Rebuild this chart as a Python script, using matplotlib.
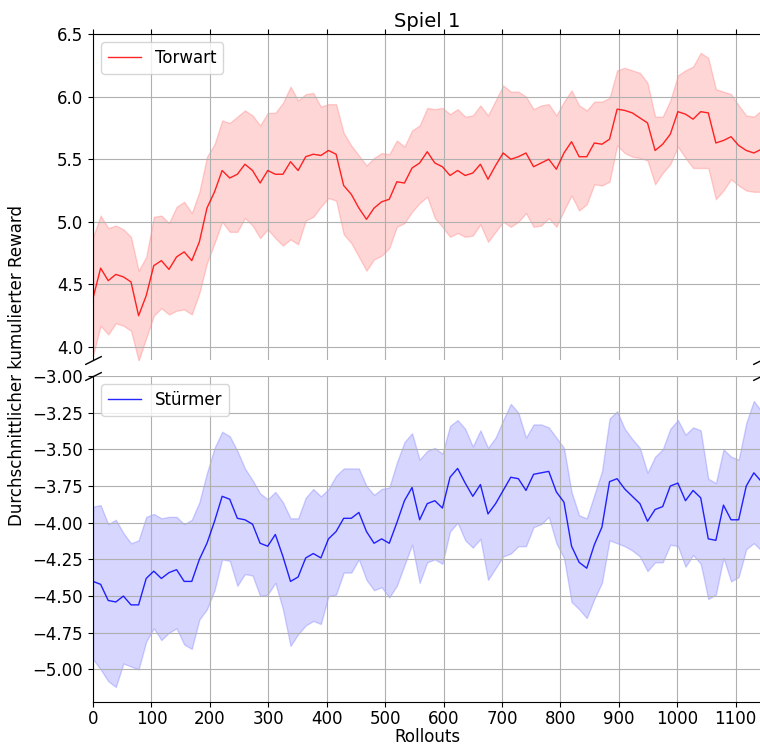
import numpy as np
import matplotlib
matplotlib.use('Agg')
import matplotlib.pyplot as plt

# %% Werte
rollouts = np.arange(0, 1145, 13)

torwart_mean = [4.39, 4.63, 4.53, 4.58, 4.56, 4.52, 4.25, 4.41, 4.65, 4.69,
                4.62, 4.72, 4.76, 4.69, 4.84, 5.11, 5.24, 5.41, 5.35, 5.38,
                5.46, 5.41, 5.31, 5.41, 5.38, 5.38, 5.48, 5.41, 5.52, 5.54,
                5.53, 5.57, 5.54, 5.29, 5.22, 5.11, 5.02, 5.11, 5.16, 5.18,
                5.32, 5.31, 5.43, 5.47, 5.56, 5.47, 5.44, 5.37, 5.41, 5.37,
                5.39, 5.46, 5.34, 5.45, 5.55, 5.50, 5.52, 5.55, 5.44, 5.47,
                5.50, 5.42, 5.55, 5.64, 5.52, 5.52, 5.63, 5.62, 5.66, 5.90,
                5.89, 5.87, 5.83, 5.79, 5.57, 5.62, 5.70, 5.88, 5.86, 5.82,
                5.88, 5.87, 5.63, 5.65, 5.68, 5.61, 5.57, 5.55, 5.58]
torwart_upper = [4.88, 5.05, 4.95, 4.97, 4.94, 4.88, 4.61, 4.72, 5.04, 5.05,
                 4.99, 5.12, 5.16, 5.07, 5.24, 5.52, 5.62, 5.81, 5.79, 5.84,
                 5.89, 5.85, 5.77, 5.87, 5.87, 5.95, 6.08, 5.97, 6.02, 6.03,
                 5.92, 5.94, 5.94, 5.71, 5.61, 5.53, 5.45, 5.51, 5.55, 5.54,
                 5.65, 5.60, 5.73, 5.77, 5.91, 5.90, 5.91, 5.86, 5.90, 5.84,
                 5.85, 5.93, 5.85, 5.97, 6.09, 6.04, 6.04, 6.00, 5.90, 5.93,
                 5.94, 5.85, 5.96, 6.05, 5.93, 5.89, 5.96, 5.96, 5.99, 6.21,
                 6.23, 6.21, 6.19, 6.11, 5.84, 5.84, 5.97, 6.17, 6.21, 6.24,
                 6.35, 6.31, 6.06, 6.04, 6.02, 5.93, 5.85, 5.84, 5.89]
torwart_lower = [3.93, 4.17, 4.10, 4.19, 4.17, 4.13, 3.89, 4.07, 4.25, 4.31,
                 4.26, 4.29, 4.30, 4.26, 4.43, 4.67, 4.83, 5.00, 4.92, 4.92,
                 5.03, 4.97, 4.87, 4.94, 4.87, 4.81, 4.86, 4.82, 5.01, 5.04,
                 5.12, 5.19, 5.17, 4.90, 4.83, 4.72, 4.61, 4.70, 4.73, 4.79,
                 4.96, 4.99, 5.08, 5.15, 5.20, 5.03, 4.96, 4.88, 4.91, 4.88,
                 4.89, 4.98, 4.84, 4.92, 5.00, 4.96, 5.00, 5.07, 4.96, 4.97,
                 5.03, 4.96, 5.09, 5.21, 5.09, 5.14, 5.30, 5.29, 5.32, 5.61,
                 5.55, 5.52, 5.51, 5.49, 5.30, 5.39, 5.46, 5.60, 5.51, 5.43,
                 5.43, 5.43, 5.18, 5.25, 5.34, 5.29, 5.25, 5.24, 5.24]

stuermer_mean = [-4.40, -4.42, -4.53, -4.54, -4.50, -4.56, -4.56, -4.38, -4.33, -4.38,
                 -4.34, -4.32, -4.40, -4.40, -4.25, -4.14, -3.99, -3.82, -3.84, -3.97,
                 -3.98, -4.01, -4.14, -4.16, -4.08, -4.23, -4.40, -4.37, -4.24, -4.21,
                 -4.24, -4.11, -4.06, -3.97, -3.97, -3.93, -4.06, -4.14, -4.11, -4.14,
                 -4.00, -3.85, -3.76, -3.98, -3.87, -3.85, -3.90, -3.69, -3.63, -3.73,
                 -3.82, -3.74, -3.94, -3.87, -3.78, -3.69, -3.70, -3.78, -3.67, -3.66,
                 -3.65, -3.79, -3.86, -4.16, -4.27, -4.31, -4.15, -4.03, -3.72, -3.70,
                 -3.77, -3.82, -3.87, -3.99, -3.91, -3.89, -3.75, -3.73, -3.85, -3.78,
                 -3.83, -4.11, -4.12, -3.88, -3.98, -3.98, -3.75, -3.66, -3.72]
stuermer_upper = [-3.89, -3.88, -4.01, -3.98, -4.07, -4.14, -4.12, -3.96, -3.94, -3.97,
                  -3.96, -3.96, -4.01, -3.98, -3.86, -3.66, -3.49, -3.38, -3.41, -3.51,
                  -3.63, -3.71, -3.80, -3.84, -3.79, -3.86, -3.97, -3.97, -3.83, -3.77,
                  -3.82, -3.77, -3.68, -3.63, -3.63, -3.63, -3.75, -3.81, -3.77, -3.76,
                  -3.59, -3.45, -3.39, -3.57, -3.51, -3.49, -3.53, -3.34, -3.30, -3.36,
                  -3.48, -3.37, -3.49, -3.42, -3.30, -3.19, -3.25, -3.42, -3.33, -3.33,
                  -3.35, -3.42, -3.49, -3.79, -3.95, -3.97, -3.81, -3.65, -3.29, -3.24,
                  -3.36, -3.43, -3.49, -3.66, -3.55, -3.50, -3.36, -3.30, -3.40, -3.35,
                  -3.37, -3.70, -3.73, -3.50, -3.55, -3.57, -3.32, -3.17, -3.24]
stuermer_lower = [-4.93, -5.00, -5.08, -5.12, -4.96, -4.98, -5.00, -4.81, -4.72, -4.80,
                  -4.75, -4.72, -4.83, -4.86, -4.66, -4.59, -4.46, -4.25, -4.26, -4.43,
                  -4.35, -4.36, -4.50, -4.49, -4.41, -4.59, -4.84, -4.76, -4.70, -4.67,
                  -4.69, -4.50, -4.49, -4.34, -4.34, -4.25, -4.39, -4.46, -4.44, -4.51,
                  -4.43, -4.29, -4.15, -4.41, -4.27, -4.25, -4.28, -4.06, -4.00, -4.12,
                  -4.17, -4.11, -4.39, -4.31, -4.23, -4.21, -4.16, -4.16, -4.03, -4.01,
                  -3.96, -4.14, -4.24, -4.54, -4.59, -4.65, -4.52, -4.41, -4.12, -4.14,
                  -4.16, -4.19, -4.23, -4.33, -4.27, -4.27, -4.15, -4.16, -4.30, -4.22,
                  -4.28, -4.52, -4.49, -4.24, -4.40, -4.37, -4.18, -4.14, -4.19]

# %% Plot
fig = plt.figure(figsize=(7.6, 7.45), dpi=100)
ax1 = fig.add_axes([0.1224, 0.5174, 0.8795, 0.4369])
ax2 = fig.add_axes([0.1224, 0.0581, 0.8795, 0.4372])

ax1.plot(rollouts, torwart_mean, color='red', linewidth=1, alpha=0.85, label='Torwart')
ax1.fill_between(rollouts, torwart_lower, torwart_upper, color='red', alpha=0.16)
ax2.plot(rollouts, stuermer_mean, color='blue', linewidth=1, alpha=0.85, label='Stürmer')
ax2.fill_between(rollouts, stuermer_lower, stuermer_upper, color='blue', alpha=0.16)

ax1.set_ylim(3.9, 6.5)
ax2.set_ylim(-5.22, -3.0)
for ax in (ax1, ax2):
    ax.set_xlim(rollouts[0], rollouts[-1])
    ax.set_xticks(np.arange(0, 1101, 100))
    ax.grid()
    ax.legend(loc='upper left', fontsize=12)
    ax.tick_params(labelsize=12)
    ax.spines['right'].set_visible(False)

ax1.set_yticks([4.0, 4.5, 5.0, 5.5, 6.0, 6.5])
ax2.set_yticks(np.arange(-5.0, -2.99, 0.25))
ax2.tick_params(axis='x', pad=2.5)

# gebrochene Achse
ax1.spines['bottom'].set_visible(False)
ax2.spines['top'].set_visible(False)
ax1.xaxis.tick_top()
ax1.tick_params(labeltop=False)
ax2.xaxis.tick_bottom()

d = .5
kwargs = dict(marker=[(-1, -d), (1, d)], markersize=12,
              linestyle='none', color='k', mec='k', mew=1, clip_on=False)
ax1.plot([0, 1], [0, 0], transform=ax1.transAxes, **kwargs)
ax2.plot([0, 1], [1, 1], transform=ax2.transAxes, **kwargs)

ax1.set_title('Spiel 1', fontsize=14, pad=5)
ax2.set_xlabel('Rollouts', fontsize=12, labelpad=0)
fig.text(0.022, 0.51, 'Durchschnittlicher kumulierter Reward', rotation=90,
         va='center', ha='center', fontsize=12)

plt.savefig('out.png', dpi=100)
